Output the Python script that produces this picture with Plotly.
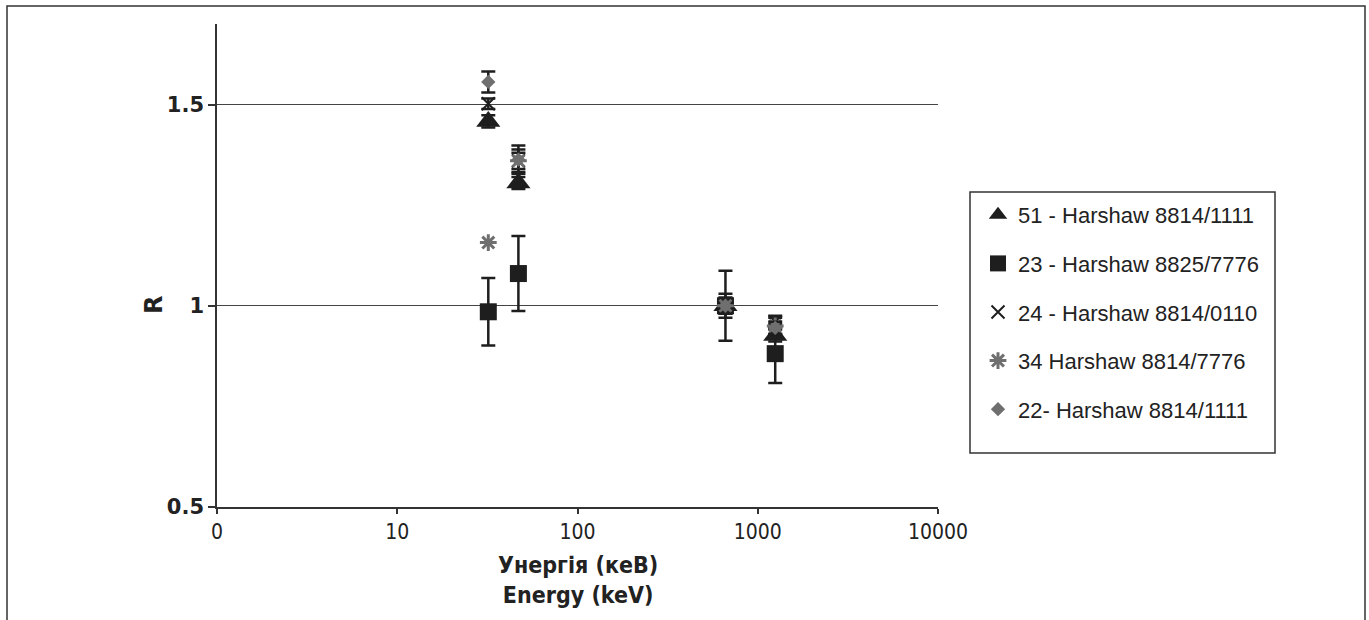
import plotly.graph_objects as go

# ---------------- data ----------------
energies = [32, 47, 662, 1250]  # keV

names = ["51 - Harshaw 8814/1111", "23 - Harshaw 8825/7776", "24 - Harshaw 8814/0110",
         "34 Harshaw 8814/7776", "22- Harshaw 8814/1111"]

r_51 = [1.458, 1.305, 1.0, 0.926]
e_51 = [0.015, 0.015, 0.015, 0.015]

r_23 = [0.985, 1.08, 1.0, 0.881]
e_23 = [0.084, 0.093, 0.087, 0.073]

r_24 = [1.502, 1.36, 1.0, 0.96]
e_24 = [0.013, 0.02, 0.03, 0.015]

r_34 = [1.157, 1.36, 1.0, 0.95]
e_34 = [0.0, 0.028, 0.02, 0.02]

r_22 = [1.556, 1.363, 1.0, 0.945]
e_22 = [0.026, 0.035, 0.02, 0.015]

x_tickvals = [1, 10, 100, 1000, 10000]
x_ticktext = ["0", "10", "100", "1000", "10000"]
y_tickvals = [0.5, 1, 1.5]
y_ticktext = ["0.5", "1", "1.5"]

# ---------------- style ----------------
BLACK = "#1e1e1e"
GRAY = "#6f6f6f"
W, H = 1369, 620
L, R, T, B = 217, 938, 24, 507
pw, ph = R - L, B - T

def px(x):
    return (x - L) / pw

def py(y):
    return (B - y) / ph

fig = go.Figure()

def err(vals):
    return dict(type="data", array=vals, visible=True, color=BLACK, thickness=2.5, width=7)

specs = [
    (r_51, e_51, dict(symbol="triangle-up", size=21, color=BLACK)),
    (r_23, e_23, dict(symbol="square", size=17, color=BLACK)),
    (r_24, e_24, dict(symbol="x-thin-open", size=13, color=BLACK, line=dict(width=2, color=BLACK))),
    (r_34, e_34, dict(symbol="asterisk-open", size=14, color=GRAY, line=dict(width=3, color=GRAY))),
    (r_22, e_22, dict(symbol="diamond", size=11, color=GRAY)),
]

for i, (vals, errs, mk) in enumerate(specs):
    fig.add_trace(go.Scatter(
        x=energies, y=vals, mode="markers", name=names[i],
        marker=mk, error_y=err(errs), legendgroup=f"g{i}",
    ))

fig.update_layout(
    width=W, height=H,
    margin=dict(l=L, r=W - R, t=T, b=H - B, pad=0),
    paper_bgcolor="white", plot_bgcolor="white",
    showlegend=True,
    legend=dict(
        x=px(978), y=py(194), xanchor="left", yanchor="top",
        borderwidth=0, bgcolor="rgba(0,0,0,0)",
        font=dict(family="Liberation Sans, Arial, sans-serif", size=22, color="#222222"),
        traceorder="grouped", tracegroupgap=17, itemwidth=30,
    ),
    xaxis=dict(
        type="log", range=[0, 4], tickvals=x_tickvals, ticktext=x_ticktext,
        showgrid=False, showline=True, linecolor="#333333", linewidth=1.5,
        ticks="outside", ticklen=5, tickcolor="#333333", tickwidth=1.5,
        tickfont=dict(family="Liberation Sans Narrow, DejaVu Sans Condensed, sans-serif", size=21, color="#222222"),
        zeroline=False,
    ),
    yaxis=dict(
        range=[0.5, 1.7], tickvals=y_tickvals, ticktext=y_ticktext,
        showgrid=True, gridcolor="#444444", gridwidth=1.2,
        showline=True, linecolor="#333333", linewidth=1.5,
        ticks="outside", ticklen=7, tickcolor="#333333", tickwidth=1.5,
        tickfont=dict(family="DejaVu Sans, sans-serif", size=21, color="#222222", weight="bold"),
        zeroline=False,
    ),
    annotations=[
        dict(text="Унергія (кеВ)<br>Energy (keV)", xref="paper", yref="paper",
             x=px(578), y=py(580), xanchor="center", yanchor="middle", showarrow=False,
             font=dict(family="Liberation Sans Narrow, DejaVu Sans Condensed, sans-serif",
                       size=23, color="#222222", weight="bold")),
        dict(text="R", xref="paper", yref="paper", x=px(154), y=py(305),
             xanchor="center", yanchor="middle", showarrow=False, textangle=-90,
             font=dict(family="DejaVu Sans, sans-serif", size=24, color="#222222", weight="bold")),
    ],
    shapes=[
        dict(type="rect", xref="paper", yref="paper",
             x0=px(7), x1=px(1365), y0=py(660), y1=py(6),
             line=dict(color="#333333", width=1.5), fillcolor="rgba(0,0,0,0)", layer="below"),
        dict(type="rect", xref="paper", yref="paper",
             x0=px(970), x1=px(1275), y0=py(453), y1=py(192),
             line=dict(color="#333333", width=1.5), fillcolor="white", layer="below"),
    ],
)

fig.write_html("out.html")
